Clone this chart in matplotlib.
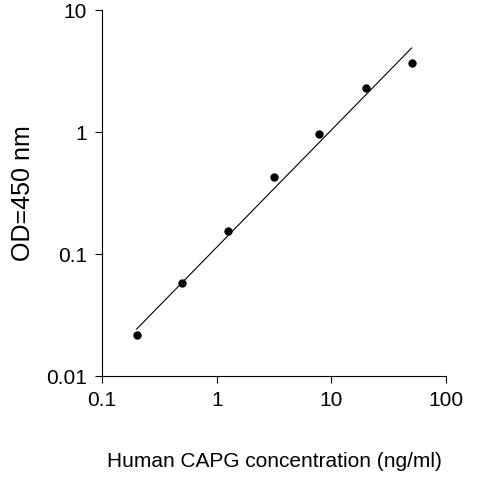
import matplotlib
matplotlib.use("Agg")
import matplotlib.pyplot as plt
from matplotlib.ticker import FixedLocator, FixedFormatter, NullLocator

conc = [0.2, 0.5, 1.25, 3.125, 7.8, 20, 50]
od = [0.0217, 0.058, 0.155, 0.43, 0.96, 2.3, 3.7]
fit_x = [0.2, 50]
fit_y = [0.0243, 4.9]

plt.rcParams["font.family"] = ["Liberation Sans", "DejaVu Sans"]

fig = plt.figure(figsize=(4.86, 4.86), dpi=100)
ax = fig.add_axes([0.21, 0.226, 0.708, 0.753])
ax.plot(fit_x, fit_y, color="black", lw=0.8)
ax.plot(conc, od, "o", color="black", ms=5)
ax.set_xscale("log")
ax.set_yscale("log")
ax.set_xlim(0.1, 100)
ax.set_ylim(0.01, 10)
ax.xaxis.set_major_locator(FixedLocator([0.1, 1, 10, 100]))
ax.xaxis.set_major_formatter(FixedFormatter(["0.1", "1", "10", "100"]))
ax.yaxis.set_major_locator(FixedLocator([0.01, 0.1, 1, 10]))
ax.yaxis.set_major_formatter(FixedFormatter(["0.01", "0.1", "1", "10"]))
ax.xaxis.set_minor_locator(NullLocator())
ax.yaxis.set_minor_locator(NullLocator())
ax.spines["top"].set_visible(False)
ax.spines["right"].set_visible(False)
ax.tick_params(labelsize=15, length=5, direction="out", pad=6)
ax.set_xlabel("Human CAPG concentration (ng/ml)", fontsize=15, labelpad=30)
ax.set_ylabel("OD=450 nm", fontsize=18, labelpad=8)
fig.savefig("out.png", dpi=100)
